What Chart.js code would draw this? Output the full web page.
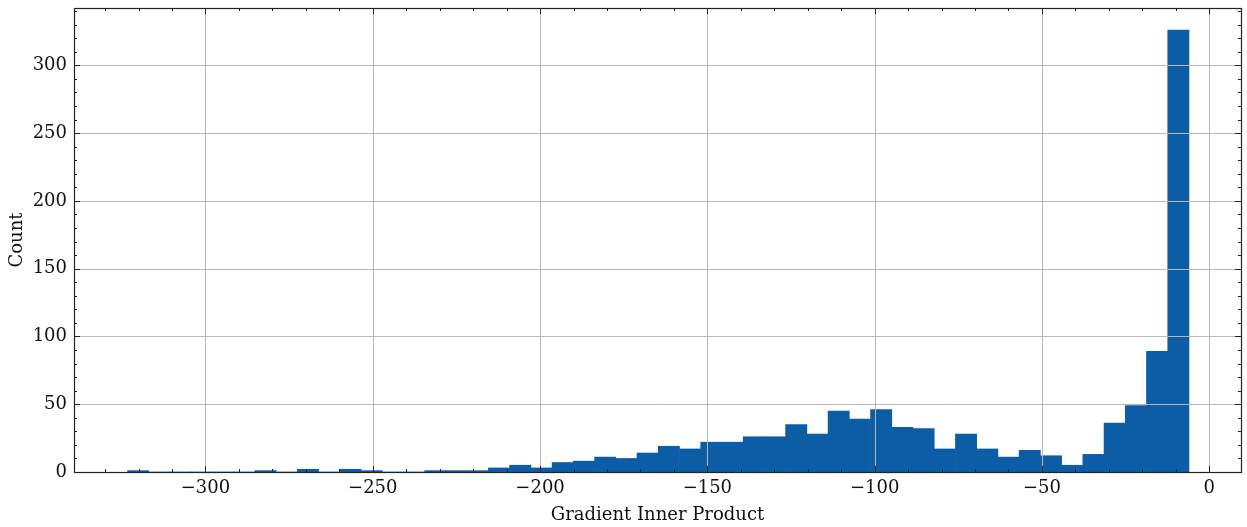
<!DOCTYPE html>
<html>
<head>
<meta charset="utf-8">
<script src="https://cdn.jsdelivr.net/npm/chart.js@4/dist/chart.umd.min.js"></script>
<style>
  html, body { margin: 0; padding: 0; background: #ffffff; }
  #wrap { width: 1247px; height: 527px; position: relative; }
</style>
</head>
<body>
<div id="wrap"><canvas id="c" width="1247" height="527"></canvas></div>
<script>
// Histogram counts (50 equal-width bins)
const counts = [1, 0, 0, 0, 0, 0, 1, 0, 2, 0,
                2, 1, 0, 0, 1, 1, 1, 3, 5, 3,
                7, 8, 11, 10, 14, 19, 17, 22, 22, 26,
                26, 35, 28, 45, 39, 46, 33, 32, 17, 28,
                17, 11, 16, 12, 5, 13, 36, 49, 89, 326];
const binStart = -323.3;
const binWidth = 6.345;
const xTicks = [-300, -250, -200, -150, -100, -50, 0];
const yTicks = [0, 50, 100, 150, 200, 250, 300];
const xRange = [-339.3, 9.5];
const yRange = [0, 342.3];
const xMinorStep = 10;
const yMinorStep = 10;

const binCenters = counts.map((c, i) => binStart + binWidth * (i + 0.5));
const points = counts.map((c, i) => ({ x: binCenters[i], y: c }));

const FONT = "'DejaVu Serif', serif";
const fmt = v => (v < 0 ? '\u2212' + Math.abs(v) : String(v));

const frame = {
  id: 'frame',
  afterDatasetsDraw(chart) {
    const { ctx, chartArea: a, scales: { x, y } } = chart;
    ctx.save();
    ctx.strokeStyle = '#b8b8b8';
    ctx.lineWidth = 1;
    ctx.beginPath();
    xTicks.forEach(v => {
      const px = Math.round(x.getPixelForValue(v)) + 0.5;
      ctx.moveTo(px, a.top); ctx.lineTo(px, a.bottom);
    });
    yTicks.forEach(v => {
      if (v === 0) return;
      const py = Math.round(y.getPixelForValue(v)) + 0.5;
      ctx.moveTo(a.left, py); ctx.lineTo(a.right, py);
    });
    ctx.stroke();

    ctx.strokeStyle = '#222';
    ctx.lineWidth = 1;
    ctx.beginPath();
    const major = 6, minor = 3;
    for (let v = Math.ceil(xRange[0] / xMinorStep) * xMinorStep; v <= xRange[1]; v += xMinorStep) {
      const len = xTicks.includes(v) ? major : minor;
      const px = Math.round(x.getPixelForValue(v)) + 0.5;
      ctx.moveTo(px, a.bottom); ctx.lineTo(px, a.bottom - len);
      ctx.moveTo(px, a.top); ctx.lineTo(px, a.top + len);
    }
    for (let v = Math.ceil(yRange[0] / yMinorStep) * yMinorStep; v <= yRange[1]; v += yMinorStep) {
      const len = yTicks.includes(v) ? major : minor;
      const py = Math.round(y.getPixelForValue(v)) + 0.5;
      ctx.moveTo(a.left, py); ctx.lineTo(a.left + len, py);
      ctx.moveTo(a.right, py); ctx.lineTo(a.right - len, py);
    }
    ctx.stroke();

    ctx.strokeStyle = '#222';
    ctx.lineWidth = 1.2;
    ctx.strokeRect(Math.round(a.left) + 0.5, Math.round(a.top) + 0.5,
                   Math.round(a.right - a.left), Math.round(a.bottom - a.top));
    ctx.restore();
  }
};

new Chart(document.getElementById('c'), {
  type: 'bar',
  data: {
    datasets: [{
      data: points,
      backgroundColor: '#0C5DA5',
      borderWidth: 0,
      barPercentage: 1,
      categoryPercentage: 1,
      grouped: false
    }]
  },
  options: {
    responsive: false,
    animation: false,
    events: [],
    layout: { padding: { left: 0, right: 6, top: 8, bottom: 0 } },
    plugins: { legend: { display: false }, tooltip: { enabled: false } },
    scales: {
      x: {
        type: 'linear',
        offset: false,
        min: xRange[0],
        max: xRange[1],
        grid: { display: false, drawTicks: false },
        border: { display: false },
        afterBuildTicks: s => { s.ticks = xTicks.map(v => ({ value: v })); },
        afterFit: s => { s.height = 55; s.paddingLeft = 0; s.paddingRight = 0; },
        ticks: {
          autoSkip: false,
          maxRotation: 0,
          padding: 6,
          color: '#111',
          font: { family: FONT, size: 18 },
          callback: v => fmt(v)
        },
        title: {
          display: true,
          text: 'Gradient Inner Product',
          color: '#111',
          font: { family: FONT, size: 18 },
          padding: { top: 0, bottom: 1 }
        }
      },
      y: {
        min: yRange[0],
        max: yRange[1],
        grid: { display: false, drawTicks: false },
        border: { display: false },
        afterBuildTicks: s => { s.ticks = yTicks.map(v => ({ value: v })); },
        afterFit: s => { s.width = 74; s.paddingTop = 0; s.paddingBottom = 0; },
        ticks: {
          autoSkip: false,
          padding: 7,
          color: '#111',
          font: { family: FONT, size: 18 },
          callback: v => fmt(v)
        },
        title: {
          display: true,
          text: 'Count',
          color: '#111',
          font: { family: FONT, size: 18 },
          padding: { top: 7, bottom: 0 }
        }
      }
    }
  },
  plugins: [frame]
});
</script>
</body>
</html>
